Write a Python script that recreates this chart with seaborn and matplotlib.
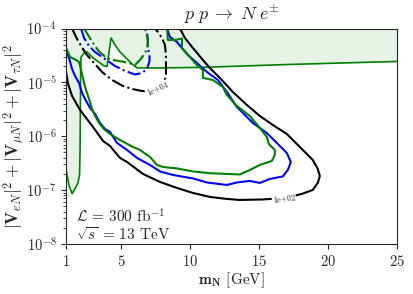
import numpy as np
import seaborn as sns
import matplotlib.pyplot as plt
from matplotlib.ticker import LogLocator, NullFormatter

# Existing bound (shaded), boundary: m_N [GeV], log10|V|^2
bound_m = [1.0, 1.217, 1.435, 1.652, 1.870, 1.978, 2.014, 2.036, 2.058, 2.087,
           2.304, 2.522, 2.957, 3.464, 3.754, 3.971, 4.261, 4.551, 4.913, 5.348,
           5.783, 6.145, 7.812, 10.71, 17.23, 25.0]
bound_log = [-6.62, -6.917, -7.065, -6.972, -6.861, -6.713, -6.25, -5.51, -4.77, -4.528,
             -4.454, -4.435, -4.546, -4.639, -4.694, -4.704, -4.176, -4.306, -4.435, -4.546,
             -4.657, -4.731, -4.731, -4.722, -4.667, -4.611]

# 1e+02 contours (solid)
black_m = [1.0, 1.145, 1.435, 2.014, 2.957, 3.681, 4.188, 4.913, 5.420, 6.580,
           7.812, 9.043, 10.203, 11.435, 12.667, 13.609, 15.275, 16.870, 18.101, 18.899,
           19.261, 19.406, 19.261, 18.899, 17.957, 17.014, 16.0, 15.058, 14.116, 13.101,
           12.159, 11.435, 10.928, 10.203, 9.623, 9.261]
black_log = [-4.807, -5.030, -5.252, -5.512, -5.828, -6.087, -6.180, -6.403, -6.477, -6.699,
             -6.848, -6.959, -7.052, -7.126, -7.163, -7.182, -7.173, -7.145, -7.071, -6.996,
             -6.866, -6.737, -6.607, -6.440, -6.199, -5.957, -5.790, -5.623, -5.419, -5.178,
             -4.918, -4.733, -4.584, -4.362, -4.176, -4.0]

blue_m = [1.0, 1.217, 1.435, 1.652, 1.942, 2.159, 2.377, 2.739, 3.101, 3.464,
          3.826, 4.188, 4.696, 5.420, 6.145, 7.087, 7.812, 8.754, 10.203, 11.217,
          12.667, 13.391, 14.333, 15.058, 15.783, 16.725, 17.087, 17.304, 17.014, 16.290,
          15.565, 14.551, 13.826, 13.391, 12.667, 12.014, 11.217, 10.493, 9.841, 9.406,
          9.043, 8.536, 8.319]
blue_log = [-4.436, -4.547, -4.751, -4.881, -5.011, -5.197, -5.308, -5.475, -5.586, -5.753,
            -5.865, -5.920, -6.124, -6.254, -6.403, -6.532, -6.653, -6.718, -6.783, -6.857,
            -6.904, -6.857, -6.829, -6.866, -6.792, -6.746, -6.625, -6.477, -6.310, -6.124,
            -5.940, -5.753, -5.568, -5.456, -5.178, -4.955, -4.807, -4.640, -4.492, -4.362,
            -4.250, -4.158, -4.0]

green_m = [1.0, 1.290, 1.725, 1.942, 2.087, 2.304, 2.449, 2.667, 2.884, 3.101,
           3.391, 3.754, 4.188, 4.913, 5.855, 6.362, 7.087, 7.594, 8.029, 9.043,
           10.203, 11.435, 12.667, 13.609, 14.333, 15.058, 15.928, 16.145, 16.145, 15.710,
           15.565, 15.058, 14.333, 13.391, 12.667, 12.377, 11.652, 10.928, 10.928, 10.493,
           9.986, 9.406, 9.406, 8.899, 8.391, 8.319]
green_log = [-4.362, -4.529, -4.584, -4.622, -4.770, -5.011, -5.141, -5.308, -5.494, -5.623,
             -5.753, -5.865, -5.958, -6.069, -6.199, -6.254, -6.384, -6.532, -6.570, -6.597,
             -6.653, -6.686, -6.699, -6.709, -6.625, -6.532, -6.458, -6.347, -6.254, -6.143,
             -6.013, -5.846, -5.623, -5.438, -5.234, -5.085, -4.955, -4.918, -4.770, -4.677,
             -4.529, -4.362, -4.186, -4.213, -4.213, -4.0]

# 1e+04 contours (dash-dot)
black_dd_m = [1.435, 1.797, 2.159, 2.522, 3.029, 3.609, 4.333, 5.058, 5.783, 6.507,
              7.232, 7.812, 8.101, 8.246, 8.246, 8.246, 8.174, 7.957, 7.667, 7.449]
black_dd_log = [-4.0, -4.195, -4.353, -4.492, -4.640, -4.807, -4.955, -5.058, -5.122, -5.160,
                -5.169, -5.122, -5.030, -4.881, -4.714, -4.492, -4.306, -4.176, -4.065, -4.0]

blue_dd_m = [2.087, 2.304, 2.667, 3.101, 3.826, 4.551, 5.275, 6.0, 6.507, 6.870,
             7.051, 7.051, 6.906, 6.942, 6.870, 6.725]
blue_dd_log = [-4.0, -4.176, -4.325, -4.436, -4.566, -4.696, -4.788, -4.853, -4.826, -4.751,
               -4.603, -4.492, -4.343, -4.213, -4.083, -4.0]

green_dd_m = [2.304, 2.594, 2.957, 3.355, 3.899, 4.406, 5.058, 5.638, 6.0, 6.362,
              6.580, 6.797, 6.942, 6.906, 6.797, 6.725]
green_dd_log = [-4.0, -4.121, -4.269, -4.417, -4.538, -4.584, -4.612, -4.649, -4.677, -4.584,
                -4.510, -4.417, -4.306, -4.176, -4.065, -4.0]

x_ticks = [1, 5, 10, 15, 20, 25]


def _v(logs):
    return np.power(10.0, np.array(logs))


sns.set_style("ticks")
plt.rcParams['mathtext.fontset'] = 'cm'
plt.rcParams['font.family'] = 'serif'
plt.rcParams['font.serif'] = ['cmr10', 'DejaVu Serif']
plt.rcParams['axes.formatter.use_mathtext'] = True

fig, ax = plt.subplots(figsize=(4.13, 2.94), dpi=100)
fig.subplots_adjust(left=0.16, right=0.961, top=0.903, bottom=0.17)

# shaded existing bound
ax.fill_between(bound_m, _v(bound_log), 1e-4, color='green', alpha=0.1, lw=0)
sns.lineplot(x=bound_m, y=_v(bound_log), sort=False, estimator=None, color='green', lw=1.2, ax=ax)

for m, lg, c in [(black_m, black_log, 'black'), (blue_m, blue_log, 'blue'), (green_m, green_log, 'green')]:
    sns.lineplot(x=m, y=_v(lg), sort=False, estimator=None, color=c, lw=1.5, ax=ax)

for m, lg, c in [(black_dd_m, black_dd_log, 'black'), (blue_dd_m, blue_dd_log, 'blue'),
                 (green_dd_m, green_dd_log, 'green')]:
    sns.lineplot(x=m, y=_v(lg), sort=False, estimator=None, color=c, lw=1.5, ls='-.', ax=ax)

# contour labels
ax.text(16.8, 10**-7.154, '1e+02', fontsize=6, rotation=7, ha='center', va='center',
        bbox=dict(facecolor='white', edgecolor='none', pad=0.5))
ax.text(7.6, 10**-5.12, '1e+04', fontsize=6, rotation=25, ha='center', va='center',
        bbox=dict(facecolor='white', edgecolor='none', pad=0.5))

ax.set_yscale('log')
ax.set_xlim(1, 25)
ax.set_ylim(1e-8, 1e-4)
ax.set_xticks(x_ticks)
ax.set_xticklabels(['$%d$' % t for t in x_ticks])
ax.yaxis.set_minor_locator(LogLocator(base=10, subs=np.arange(2, 10), numticks=20))
ax.yaxis.set_minor_formatter(NullFormatter())
ax.tick_params(labelsize=10.5)
ax.tick_params(axis='y', which='minor', length=2.5, width=0.6)

ax.set_title(r'$p\;p\;\rightarrow\;N\;e^{\pm}$', fontsize=13)
ax.set_xlabel(r'$\mathbf{m_N}$ [GeV]', fontsize=11, labelpad=1)
ax.set_ylabel(r'$|\mathbf{V}_{eN}|^2 + |\mathbf{V}_{\mu N}|^2 + |\mathbf{V}_{\tau N}|^2$',
              fontsize=12.5, labelpad=0)

ax.text(0.03, 0.1, r'$\mathcal{L}$ = 300 fb$^{-1}$', transform=ax.transAxes, fontsize=11)
ax.text(0.03, 0.02, r'$\sqrt{s}$ = 13 TeV', transform=ax.transAxes, fontsize=11)

fig.savefig('out.png')
